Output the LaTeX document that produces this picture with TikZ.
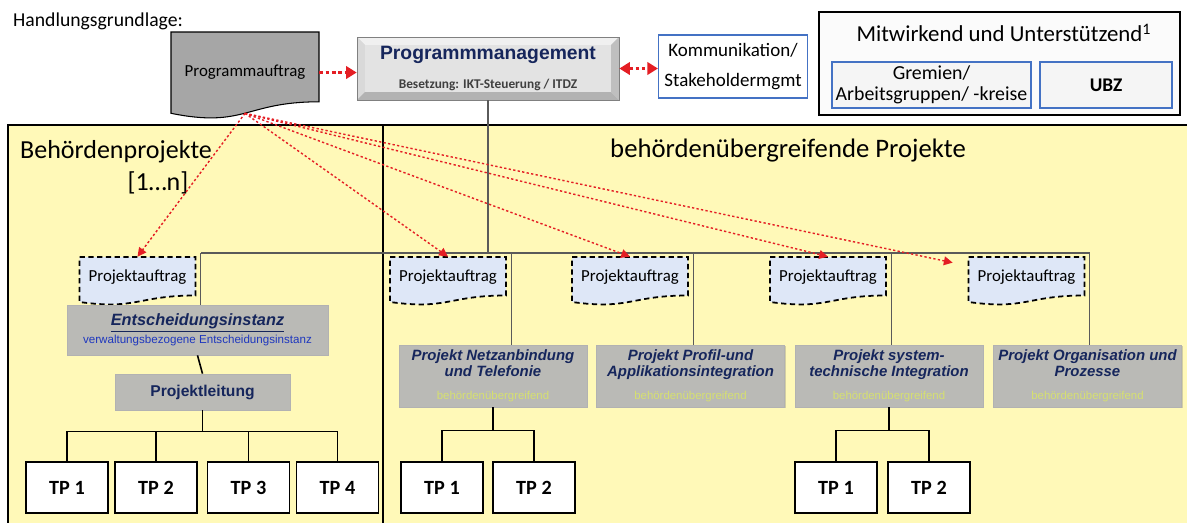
\documentclass[tikz,border=0pt]{standalone}
\usepackage{fontspec}
\setmainfont{Carlito}
\newfontfamily\arialfont{Liberation Sans}
\usetikzlibrary{arrows.meta,shadows}

\definecolor{panelyellow}{RGB}{255,249,184}
\definecolor{boxgray}{RGB}{186,186,182}
\definecolor{docgray}{RGB}{166,166,166}
\definecolor{navytext}{RGB}{22,38,92}
\definecolor{linkblue}{RGB}{30,55,190}
\definecolor{palegreen}{RGB}{214,224,112}
\definecolor{frameblue}{RGB}{68,114,196}
\definecolor{auftragblue}{RGB}{222,231,247}
\definecolor{arrowred}{RGB}{228,30,36}
\definecolor{orggray}{RGB}{90,90,90}

\begin{document}
\begin{tikzpicture}[x=0.02cm, y=-0.02cm,
	panel/.style={fill=panelyellow, draw=black, line width=0.8pt},
	orgline/.style={draw=orggray, line width=0.6pt},
	treeline/.style={draw=black, line width=0.9pt},
	redlink/.style={draw=arrowred, line width=0.8pt, dash pattern=on 1.3pt off 1.3pt, -{Triangle[length=5pt,width=5pt]}},
	redlinkthick/.style={draw=arrowred, line width=2pt, dash pattern=on 2pt off 1.6pt},
	graybox/.style={fill=boxgray, draw=gray!60, line width=0.4pt, align=center, inner sep=1pt,
		drop shadow={shadow xshift=0.8pt, shadow yshift=-0.8pt, opacity=0.35}},
	projbox/.style={graybox, minimum width=3.76cm, minimum height=1.24cm,
		font=\arialfont\bfseries\itshape\fontsize{8.5}{9}\selectfont, text=navytext},
	tpbox/.style={fill=white, draw=black, line width=0.8pt, minimum width=1.64cm, minimum height=1.02cm,
		font=\bfseries\fontsize{11.5}{12}\selectfont},
	auftragshape/.style={fill=auftragblue, draw=black, line width=1pt, dash pattern=on 3pt off 2pt},
	auftrag/.style={minimum width=2.32cm, minimum height=0.8cm, inner sep=0pt, font=\fontsize{9.6}{11}\selectfont},
	bluebox/.style={draw=frameblue, line width=0.7pt, align=center}
	]
	\useasboundingbox (0,0) rectangle (1187,522);
	
	% panels
	\draw[panel] (8,125) rectangle (383,540);
	\draw[panel] (383,125) rectangle (1200,540);
	\node (bptitle) [anchor=west, font=\fontsize{14.8}{16}\selectfont] at (14,152) {Behördenprojekte};
	\node (bpcount) [font=\fontsize{14.8}{16}\selectfont] at (158,183) {[1…n]};
	\node (bueTitle) [font=\fontsize{15.2}{16}\selectfont] at (788,151) {behördenübergreifende Projekte};
	
	% top row
	\node (basis) [anchor=west, font=\fontsize{11.2}{12}\selectfont] at (7,21) {Handlungsgrundlage:};
	\draw[fill=docgray, draw=black, line width=0.6pt]
	(171,32) -- (319,32) -- (319,101.8) .. controls (245,101.8) and (245,128.3) .. (171,113.3) -- cycle;
	\node (pauftrag) [minimum width=2.96cm, minimum height=1.62cm, font=\fontsize{9.6}{11}\selectfont] at (245,72.5) {Programmauftrag};
	
	% bevelled box
	\fill[gray!45] (357,37) rectangle (619,100);
	\fill[gray!12] (357,37) -- (619,37) -- (611,45) -- (365,45) -- cycle;
	\fill[gray!30] (357,37) -- (365,45) -- (365,92) -- (357,100) -- cycle;
	\fill[gray!60] (357,100) -- (619,100) -- (611,92) -- (365,92) -- cycle;
	\fill[gray!50] (619,37) -- (619,100) -- (611,92) -- (611,45) -- cycle;
	\fill[gray!22] (365,45) rectangle (611,92);
	\node (pm) [draw=gray, line width=0.4pt, minimum width=5.24cm, minimum height=1.26cm, align=center,
	font=\arialfont\bfseries\fontsize{11}{12}\selectfont, text=navytext] at (488,68.5)
	{Programmmanagement\\[5pt]{\normalfont\bfseries\fontsize{7.6}{8}\selectfont\color{darkgray}Besetzung: IKT-Steuerung / ITDZ}};
	\node (komm) [bluebox, fill=white, minimum width=2.92cm, minimum height=1.26cm,
	font=\fontsize{10.8}{17}\selectfont] at (733,66.5) {Kommunikation/\\Stakeholdermgmt};
	
	\node (mitwirkend) [draw=black, line width=1pt, fill=gray!3, minimum width=7.22cm, minimum height=2.06cm] at (999.5,63.5) {};
	\node (mittitle) [font=\fontsize{13}{14}\selectfont] at (1004,33) {Mitwirkend und Unterstützend\textsuperscript{1}};
	\node (gremien) [bluebox, fill=gray!8, minimum width=3.98cm, minimum height=0.92cm, inner sep=1pt,
	font=\fontsize{11.3}{12}\selectfont] at (931.5,85) {Gremien/\\Arbeitsgruppen/ -kreise};
	\node (ubz) [bluebox, fill=gray!8, minimum width=2.64cm, minimum height=0.92cm,
	font=\bfseries\fontsize{11}{12}\selectfont] at (1106,85) {UBZ};
	
	\draw[redlinkthick, -{Triangle[length=6pt,width=7pt]}] (pauftrag.east) -- (pauftrag.east -| pm.west);
	\draw[redlinkthick, {Triangle[length=6pt,width=7pt]}-{Triangle[length=6pt,width=7pt]}] (pm.east) -- (pm.east -| komm.west);
	
	% Projektauftraege
	\foreach \cx in {137.5,448,630,828,1026.5}
	\draw[auftragshape] ({\cx-58},257) -- ({\cx+58},257) -- ({\cx+58},295.5)
	.. controls (\cx,295.5) and (\cx,310) .. ({\cx-58},302) -- cycle;
	\foreach \n/\cx in {pa0/137.5,pa1/448,pa2/630,pa3/828,pa4/1026.5}
	\node[auftrag] (\n) at (\cx,277) {Projektauftrag};
	
	% boxes
	\node (ent) [graybox, minimum width=5.22cm, minimum height=1cm,
	font=\arialfont\bfseries\itshape\fontsize{9.3}{10}\selectfont, text=navytext] at (197.5,330)
	{\underline{Entscheidungsinstanz}\\{\mdseries\upshape\fontsize{6.6}{7}\selectfont\color{linkblue}verwaltungsbezogene Entscheidungsinstanz}};
	\node (pl) [graybox, minimum width=3.5cm, minimum height=0.72cm,
	font=\arialfont\bfseries\fontsize{8.9}{10}\selectfont, text=navytext] at (202.5,392) {Projektleitung};
	
	\node (netz) [projbox] at (493,376) {Projekt Netzanbindung\\und Telefonie\\[4pt]{\mdseries\upshape\fontsize{6.5}{7}\selectfont\color{palegreen}behördenübergreifend}};
	\node (profil) [projbox] at (690.5,376) {Projekt Profil-und\\Applikationsintegration\\[4pt]{\mdseries\upshape\fontsize{6.5}{7}\selectfont\color{palegreen}behördenübergreifend}};
	\node (system) [projbox] at (889,376) {Projekt system-\\technische Integration\\[4pt]{\mdseries\upshape\fontsize{6.5}{7}\selectfont\color{palegreen}behördenübergreifend}};
	\node (org) [projbox] at (1087.5,376) {Projekt Organisation und\\Prozesse\\[4pt]{\mdseries\upshape\fontsize{6.5}{7}\selectfont\color{palegreen}behördenübergreifend}};
	
	% Teilprojekte
	\foreach \n/\cx/\t in {tpa1/67/1,tpa2/156/2,tpa3/248.5/3,tpa4/337.5/4,tpb1/442/1,tpb2/534/2,tpc1/836/1,tpc2/929/2}
	\node[tpbox] (\n) at (\cx,487.5) {TP \t};
	
	% organigram lines, just right of each Projektauftrag
	\coordinate (bus) at (0,253);
	\foreach \n in {0,...,4}
	\coordinate (v\n) at ([xshift=0.1cm]pa\n.east);
	\draw[orgline] (v0 |- bus) -- (v4 |- bus);
	\draw[orgline] (pm.south) -- (pm.south |- bus);
	\draw[orgline] (v0 |- bus) -- (v0 |- ent.north);
	\draw[orgline] (v1 |- bus) -- (v1 |- netz.north);
	\draw[orgline] (v2 |- bus) -- (v2 |- profil.north);
	\draw[orgline] (v3 |- bus) -- (v3 |- system.north);
	\draw[orgline] (v4 |- bus) -- (v4 |- org.north);
	\draw[treeline] (ent.south) -- (pl.north);
	\foreach \t in {tpa1,tpa2,tpa3,tpa4}
	\draw[treeline] (pl.south) -- ++(0,21) -| (\t.north);
	\foreach \t in {tpb1,tpb2}
	\draw[treeline] (netz.south) -- ++(0,23) -| (\t.north);
	\foreach \t in {tpc1,tpc2}
	\draw[treeline] (system.south) -- ++(0,23) -| (\t.north);
	
	% red links to the Projektauftraege
	\foreach \n in {pa0,pa1,pa2,pa3}
	\draw[redlink] (pauftrag.south) -- (\n.north);
	\draw[redlink] (pauftrag.south) -- ([xshift=-0.31cm,yshift=-0.12cm]pa4.north west);
	
\end{tikzpicture}
\end{document}
